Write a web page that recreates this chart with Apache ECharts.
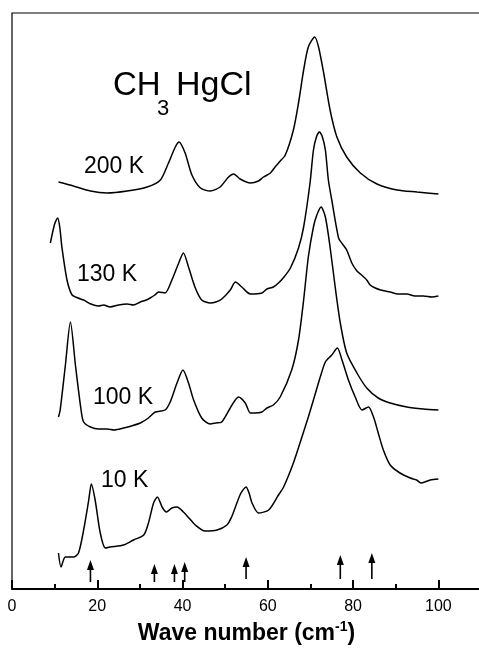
<!DOCTYPE html>
<html>
<head>
<meta charset="utf-8">
<script src="https://cdn.jsdelivr.net/npm/echarts@6/dist/echarts.min.js"></script>
<style>
html,body{margin:0;padding:0;background:#fff;}
#c{width:479px;height:650px;}
</style>
</head>
<body>
<div id="c"></div>
<script>
// x: wave number (cm-1), y: intensity (arbitrary units, curves offset vertically)
const xTicks = [0, 20, 40, 60, 80, 100];
const seriesNames = ['200 K', '130 K', '100 K', '10 K'];

const k200 = [[10.9,407],[14.4,403],[18.4,398],[22.3,396],[27.0,398],[31.7,402],[34.8,409],[36.7,426],[38.3,442],[39.2,447],[40.6,436],[42.2,414],[44.2,401],[46.5,398],[48.8,402],[50.8,412],[52.0,415],[53.5,410],[55.9,406],[57.8,408],[59.0,412],[60.6,416],[61.7,422],[62.7,427],[64.1,434],[66.0,459],[67.2,486],[68.4,519],[69.5,542],[71.0,552],[71.9,542],[73.1,516],[74.6,479],[76.2,452],[78.5,432],[81.7,416],[85.6,405],[90.3,399],[95.0,397],[100,395]];

const k130 = [[9.0,346],[10.0,365],[10.7,371],[11.2,362],[11.7,342],[12.9,309],[14.1,294],[15.5,291],[16.8,289],[18.5,285],[20.3,283],[21.5,284],[23.0,282],[25.0,284],[27.0,285],[28.5,284],[30.1,287],[31.5,289],[32.4,291],[33.5,294],[34.4,297],[35.9,296],[37.5,309],[39.1,326],[40.2,336],[41.4,322],[43.0,301],[44.5,289],[46.5,286],[47.8,287],[49.2,290],[51.2,299],[52.4,307],[53.9,302],[55.9,295],[58.6,296],[59.8,300],[61.3,302],[62.5,306],[63.8,312],[65.3,321],[67.2,341],[68.4,362],[69.9,406],[70.7,439],[71.4,452],[72.1,457],[72.8,452],[73.5,439],[74.2,409],[75.0,389],[76.6,351],[77.5,345],[78.5,339],[79.7,326],[80.9,318],[82.0,314],[83.2,309],[84.0,304],[85.2,301],[86.5,299],[88.7,297],[90.5,295],[92.6,295],[94.5,293],[96.5,293],[98.5,292],[100,293]];

const k100 = [[10.9,172],[11.3,179],[12.5,223],[13.7,267],[14.9,223],[16.2,179],[16.8,167],[18.4,162],[20.3,160],[22.3,160],[24.0,159],[26.2,161],[28.0,163],[30.1,166],[32.0,171],[33.6,177],[35.9,179],[37.1,187],[38.7,206],[40.1,219],[41.4,206],[42.6,189],[44.5,171],[46.5,165],[47.8,166],[49.2,167],[51.6,184],[53.1,192],[54.7,186],[55.9,176],[57.0,176],[58.6,177],[59.8,181],[61.3,184],[62.9,192],[65.6,219],[67.2,249],[68.4,289],[69.5,332],[70.7,362],[71.5,374],[72.5,382],[73.5,372],[74.6,342],[75.8,302],[77.0,266],[78.5,236],[80.9,216],[83.2,201],[85.9,191],[88.7,186],[92.6,182],[96.5,180],[100,179]];

const k10 = [[10.9,36],[11.5,22],[12.5,32],[14.4,32],[15.6,36],[16.8,59],[18.0,89],[18.6,105],[19.5,89],[20.7,56],[21.9,41],[23.0,42],[26.2,44],[28.5,49],[30.9,54],[32.0,66],[33.2,86],[34.1,92],[35.2,82],[36.2,77],[37.5,81],[38.7,82],[40.2,77],[41.5,71],[43.0,64],[45.3,58],[48.1,59],[50.4,64],[51.5,72],[52.4,82],[53.7,96],[54.9,102],[55.6,96],[56.3,86],[57.8,76],[60.2,79],[62.5,94],[63.7,102],[66.0,126],[68.0,152],[69.5,172],[70.7,189],[72.3,212],[73.5,227],[75.0,234],[76.3,241],[77.4,229],[78.9,209],[80.5,192],[82.1,179],[83.6,182],[84.8,172],[85.9,156],[87.1,139],[88.7,124],[91.0,116],[93.4,111],[94.9,109],[96.0,106],[98.1,109],[100,110]];

// arrows marking mode positions: x, base, tip (intensity units)
const arrowX = [18.4, 33.4, 38.1, 40.5, 54.9, 77.0, 84.4];
const arrowBase = [7, 7, 7, 7, 10, 10, 10];
const arrowTip = [29, 25, 25, 27, 32, 34, 36];

const FONT = "'Liberation Sans', Arial, Helvetica, sans-serif";
const chart = echarts.init(document.getElementById('c'), null, {renderer: 'canvas'});

const lineSeries = (name, data) => ({
  name, type: 'line', data, xAxisIndex: 0, yAxisIndex: 0,
  showSymbol: false, symbol: 'none', smooth: 0.25,
  lineStyle: {color: '#000', width: 1.5}, silent: true
});

const arrowData = arrowX.map((x, i) => [x, arrowBase[i], arrowTip[i]]);

chart.setOption({
  animation: false,
  backgroundColor: '#fff',
  grid: {left: 12, top: 13, width: 469, height: 576, show: true, borderColor: '#000', borderWidth: 1.2,
    backgroundColor: 'transparent', containLabel: false, outerBoundsMode: 'none'},
  xAxis: [{
    type: 'value', min: 0, max: 110, interval: 20,
    axisLine: {show: true, lineStyle: {color: '#000', width: 2}},
    axisTick: {show: true, inside: true, length: 9, lineStyle: {color: '#000', width: 2}},
    axisLabel: {show: true, color: '#000', fontSize: 16, fontFamily: FONT, margin: 10, showMaxLabel: false},
    splitLine: {show: false},
    name: 'Wave number (cm{sup|-1})',
    nameLocation: 'middle', nameGap: 17,
    nameTextStyle: {color: '#000', fontSize: 23, fontWeight: 'bold', fontFamily: FONT,
      rich: {sup: {fontSize: 14, fontWeight: 'bold', fontFamily: FONT, color: '#000', padding: [0, 0, 14, 0]}}}
  }, {
    type: 'value', min: 0, max: 110, interval: 10, position: 'bottom',
    axisLine: {show: false},
    axisTick: {show: true, inside: true, length: 5, lineStyle: {color: '#000', width: 2}},
    axisLabel: {show: false}, splitLine: {show: false}
  }],
  yAxis: {type: 'value', min: 0, max: 576, show: false},
  series: [
    lineSeries(seriesNames[0], k200),
    lineSeries(seriesNames[1], k130),
    lineSeries(seriesNames[2], k100),
    lineSeries(seriesNames[3], k10),
    {
      type: 'custom', name: 'modes', data: arrowData, silent: true,
      renderItem: function (params, api) {
        const b = api.coord([api.value(0), api.value(1)]);
        const t = api.coord([api.value(0), api.value(2)]);
        return {type: 'group', children: [
          {type: 'line', shape: {x1: b[0], y1: b[1], x2: t[0], y2: t[1] + 6}, style: {stroke: '#000', lineWidth: 1.6}},
          {type: 'polygon', shape: {points: [[t[0], t[1]], [t[0] - 3.5, t[1] + 10], [t[0] + 3.5, t[1] + 10]]}, style: {fill: '#000'}}
        ]};
      }
    }
  ],
  graphic: [
    {type: 'text', left: 113, top: 69, style: {text: 'CH', font: '33px ' + FONT, fill: '#000'}},
    {type: 'text', left: 157, top: 98, style: {text: '3', font: '22px ' + FONT, fill: '#000'}},
    {type: 'text', left: 176, top: 69, style: {text: 'HgCl', font: '34px ' + FONT, fill: '#000'}},
    {type: 'text', left: 84, top: 155, style: {text: seriesNames[0], font: '23px ' + FONT, fill: '#000'}},
    {type: 'text', left: 77, top: 263, style: {text: seriesNames[1], font: '23px ' + FONT, fill: '#000'}},
    {type: 'text', left: 93, top: 386, style: {text: seriesNames[2], font: '23px ' + FONT, fill: '#000'}},
    {type: 'text', left: 101, top: 469, style: {text: seriesNames[3], font: '23px ' + FONT, fill: '#000'}}
  ]
});
</script>
</body>
</html>
